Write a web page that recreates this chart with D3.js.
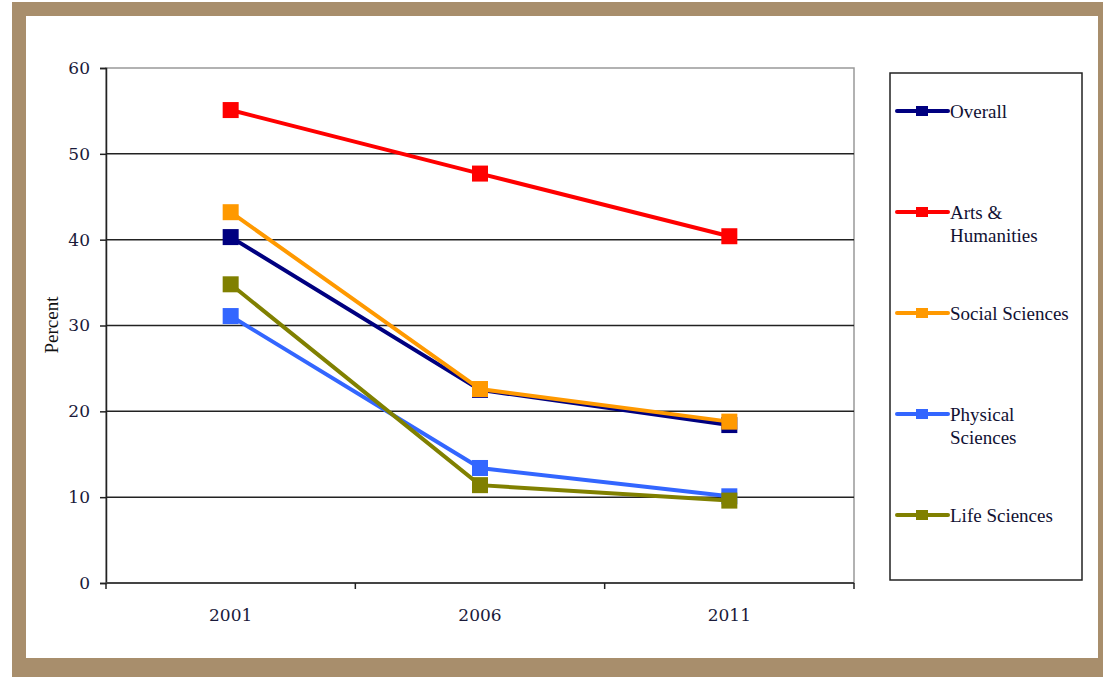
<!DOCTYPE html>
<html>
<head>
<meta charset="utf-8">
<script src="https://cdn.jsdelivr.net/npm/d3@7"></script>
<style>
  body { margin: 0; background: #ffffff; }
  text { font-family: "DejaVu Serif", "Liberation Serif", serif; }
  .legend text { font-family: "Liberation Serif", serif; }
</style>
</head>
<body>
<div id="chart"></div>
<script>
var years = ["2001", "2006", "2011"];
var seriesNames = ["Overall", "Arts & Humanities", "Social Sciences", "Physical Sciences", "Life Sciences"];
var overall = [40.3, 22.5, 18.4];
var arts = [55.1, 47.7, 40.4];
var social = [43.2, 22.6, 18.8];
var physical = [31.1, 13.4, 10.1];
var life = [34.8, 11.4, 9.6];
var yTicks = [0, 10, 20, 30, 40, 50, 60];

var colors = ["#000080", "#ff0000", "#ff9900", "#3366ff", "#808000"];
var legendLines = [["Overall"], ["Arts &", "Humanities"], ["Social Sciences"], ["Physical", "Sciences"], ["Life Sciences"]];

var series = [overall, arts, social, physical, life].map(function(v, i) {
  return { name: seriesNames[i], values: v, color: colors[i], label: legendLines[i] };
});

var width = 1103,
    height = 677;

var svg = d3.select("#chart").append("svg")
    .attr("width", width)
    .attr("height", height);

// brown frame
svg.append("rect")
    .attr("x", 12).attr("y", 2)
    .attr("width", 1103).attr("height", 675)
    .attr("fill", "#a88e6c");
svg.append("rect")
    .attr("x", 26).attr("y", 16)
    .attr("width", 1072).attr("height", 642)
    .attr("fill", "#ffffff");

var pLeft = 106, pRight = 854, pTop = 68, pBottom = 583;

var x = d3.scaleBand().domain(years).range([pLeft, pRight]);
var y = d3.scaleLinear().domain([0, 60]).range([pBottom, pTop]);

// plot border (light gray)
svg.append("rect")
    .attr("x", pLeft).attr("y", pTop)
    .attr("width", pRight - pLeft).attr("height", pBottom - pTop)
    .attr("fill", "none")
    .attr("stroke", "#999999")
    .attr("stroke-width", 1.5);

// gridlines
svg.append("g")
    .selectAll("line")
    .data(yTicks.filter(function(d) { return d > 0 && d < 60; }))
    .enter().append("line")
      .attr("x1", pLeft).attr("x2", pRight)
      .attr("y1", function(d) { return y(d); })
      .attr("y2", function(d) { return y(d); })
      .attr("stroke", "#222222")
      .attr("stroke-width", 1.5);

// y axis
var yAxis = svg.append("g")
    .attr("transform", "translate(" + pLeft + ",0)")
    .call(d3.axisLeft(y).tickValues(yTicks).tickSize(6).tickPadding(10));
yAxis.select(".domain").attr("stroke", "#222222").attr("stroke-width", 1.5);
yAxis.selectAll(".tick line").attr("stroke", "#222222").attr("stroke-width", 1.5);
yAxis.selectAll("text").attr("font-size", 17).attr("fill", "#1a1a3a")
    .style("font-family", "'DejaVu Serif', serif");

// x axis: ticks on band edges
var xAxis = svg.append("g")
    .attr("transform", "translate(0," + pBottom + ")");
xAxis.append("line")
    .attr("x1", pLeft).attr("x2", pRight)
    .attr("stroke", "#444444").attr("stroke-width", 2);
var edges = years.map(function(d) { return x(d); }).concat([pRight]);
xAxis.selectAll(".edge")
    .data(edges)
    .enter().append("line")
      .attr("class", "edge")
      .attr("x1", function(d) { return d; })
      .attr("x2", function(d) { return d; })
      .attr("y1", 0).attr("y2", 6)
      .attr("stroke", "#222222").attr("stroke-width", 1.5);
xAxis.selectAll(".lbl")
    .data(years)
    .enter().append("text")
      .attr("class", "lbl")
      .attr("x", function(d) { return x(d) + x.bandwidth() / 2; })
      .attr("y", 38)
      .attr("text-anchor", "middle")
      .attr("font-size", 17)
      .attr("fill", "#1a1a3a")
      .text(function(d) { return d; });

// y label
svg.append("text")
    .attr("transform", "translate(58,325) rotate(-90)")
    .attr("text-anchor", "middle")
    .attr("font-size", 19)
    .style("font-family", "'Liberation Serif', serif")
    .attr("fill", "#111111")
    .text("Percent");

// lines + markers
var line = d3.line()
    .x(function(d, i) { return x(years[i]) + x.bandwidth() / 2; })
    .y(function(d) { return y(d); });

var ser = svg.selectAll(".series")
    .data(series)
    .enter().append("g")
      .attr("class", "series");

ser.append("path")
    .attr("d", function(d) { return line(d.values); })
    .attr("fill", "none")
    .attr("stroke", function(d) { return d.color; })
    .attr("stroke-width", 4);

ser.selectAll("rect")
    .data(function(d) { return d.values.map(function(v, i) { return { v: v, i: i, color: d.color }; }); })
    .enter().append("rect")
      .attr("x", function(d) { return x(years[d.i]) + x.bandwidth() / 2 - 8; })
      .attr("y", function(d) { return y(d.v) - 8; })
      .attr("width", 16).attr("height", 16)
      .attr("fill", function(d) { return d.color; });

// legend
var legend = svg.append("g").attr("class", "legend");
legend.append("rect")
    .attr("x", 890).attr("y", 73)
    .attr("width", 192).attr("height", 507)
    .attr("fill", "#ffffff")
    .attr("stroke", "#222222")
    .attr("stroke-width", 1.5);

var item = legend.selectAll(".item")
    .data(series)
    .enter().append("g")
      .attr("class", "item")
      .attr("transform", function(d, i) { return "translate(0," + (111 + i * 101) + ")"; });

item.append("line")
    .attr("x1", 897).attr("x2", 948)
    .attr("stroke", function(d) { return d.color; })
    .attr("stroke-width", 4)
    .attr("stroke-linecap", "round");
item.append("rect")
    .attr("x", 916).attr("y", -5)
    .attr("width", 12).attr("height", 10)
    .attr("fill", function(d) { return d.color; });
item.append("text")
    .attr("x", 950)
    .attr("y", 7)
    .attr("font-size", 19)
    .attr("fill", "#111133")
    .selectAll("tspan")
    .data(function(d) { return d.label; })
    .enter().append("tspan")
      .attr("x", 950)
      .attr("dy", function(d, i) { return i === 0 ? 0 : 23; })
      .text(function(d) { return d; });
</script>
</body>
</html>
